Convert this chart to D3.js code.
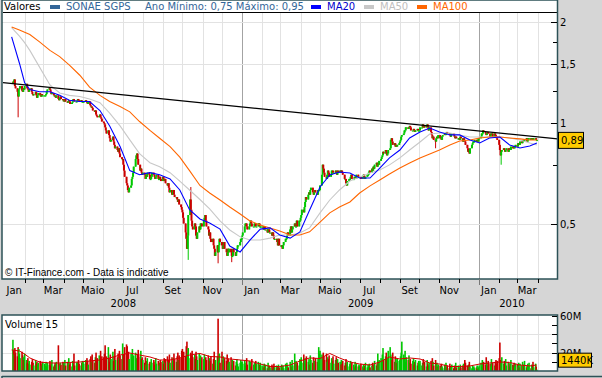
<!DOCTYPE html>
<html>
<head>
<meta charset="utf-8">
<script src="https://cdn.jsdelivr.net/npm/d3@7"></script>
<style>
  body { margin: 0; background: #d6d6d6; }
  svg { display: block; font-family: "DejaVu Sans", Verdana, sans-serif; font-size: 10px; }
</style>
</head>
<body>
<div id="wide"></div>
<script>
// ---- data ----
const firstDay = "2008-01-14";
const months = ["2008-01","2008-02","2008-03","2008-04","2008-05","2008-06","2008-07","2008-08","2008-09","2008-10","2008-11","2008-12",
  "2009-01","2009-02","2009-03","2009-04","2009-05","2009-06","2009-07","2009-08","2009-09","2009-10","2009-11","2009-12",
  "2010-01","2010-02","2010-03"];

// daily closes, one list per month (euro)
const closes = [
  [1.33,1.31,1.35,1.29,1.27,1.24,1.20,1.26,1.27,1.29,1.25,1.24,1.27,1.26],
  [1.29,1.31,1.27,1.26,1.24,1.26,1.27,1.24,1.22,1.21,1.22,1.24,1.21,1.19,1.21,1.23,1.21,1.20,1.22,1.21,1.21],
  [1.21,1.21,1.22,1.24,1.26,1.27,1.26,1.24,1.22,1.23,1.21,1.21,1.20,1.19,1.21,1.18,1.17,1.19,1.20,1.18,1.17],
  [1.17,1.16,1.18,1.16,1.15,1.16,1.17,1.16,1.14,1.15,1.16,1.18,1.17,1.16,1.16,1.17,1.18,1.17,1.16,1.17,1.16,1.16],
  [1.16,1.16,1.17,1.16,1.15,1.14,1.16,1.13,1.12,1.12,1.11,1.09,1.08,1.09,1.06,1.05,1.04,1.05,1.06,1.04,1.03,1.01],
  [1.00,0.99,0.97,0.95,0.93,0.95,0.92,0.90,0.88,0.89,0.91,0.88,0.86,0.84,0.85,0.83,0.82,0.84,0.81,0.79,0.78],
  [0.78,0.75,0.72,0.69,0.66,0.65,0.63,0.62,0.64,0.65,0.68,0.69,0.71,0.74,0.78,0.80,0.81,0.78,0.75,0.72,0.73,0.71,0.70],
  [0.71,0.70,0.68,0.70,0.69,0.71,0.70,0.68,0.68,0.69,0.71,0.70,0.69,0.68,0.69,0.70,0.68,0.68,0.69,0.68,0.67],
  [0.69,0.68,0.67,0.68,0.66,0.65,0.66,0.64,0.62,0.63,0.61,0.62,0.63,0.61,0.60,0.60,0.59,0.58,0.59,0.57,0.56,0.55],
  [0.54,0.52,0.50,0.47,0.45,0.42,0.46,0.53,0.59,0.55,0.51,0.49,0.48,0.50,0.49,0.46,0.45,0.47,0.49,0.48,0.50,0.50,0.49],
  [0.51,0.52,0.53,0.51,0.49,0.48,0.46,0.47,0.45,0.44,0.45,0.43,0.42,0.40,0.41,0.43,0.41,0.43,0.45,0.44],
  [0.43,0.42,0.43,0.44,0.42,0.41,0.40,0.42,0.41,0.42,0.41,0.40,0.40,0.42,0.41,0.40,0.41,0.42,0.43,0.43,0.44,0.45,0.45],
  [0.46,0.47,0.49,0.50,0.50,0.49,0.48,0.49,0.50,0.51,0.50,0.49,0.49,0.50,0.50,0.49,0.49,0.50,0.50,0.49,0.49,0.49],
  [0.49,0.48,0.49,0.48,0.48,0.47,0.48,0.48,0.47,0.47,0.46,0.47,0.46,0.45,0.45,0.45,0.44,0.43,0.45,0.43],
  [0.43,0.43,0.42,0.43,0.44,0.45,0.45,0.46,0.47,0.46,0.48,0.49,0.47,0.48,0.49,0.50,0.49,0.49,0.51,0.49,0.51,0.51],
  [0.52,0.53,0.55,0.54,0.56,0.58,0.60,0.59,0.61,0.62,0.61,0.63,0.64,0.62,0.61,0.62,0.63,0.62,0.61,0.63,0.63,0.63],
  [0.65,0.70,0.75,0.73,0.71,0.69,0.68,0.70,0.72,0.71,0.69,0.70,0.72,0.72,0.71,0.71,0.72,0.71,0.70,0.72,0.71],
  [0.72,0.71,0.72,0.71,0.70,0.68,0.68,0.66,0.65,0.67,0.68,0.68,0.69,0.70,0.68,0.68,0.69,0.69,0.68,0.70,0.69,0.69],
  [0.69,0.69,0.68,0.69,0.70,0.69,0.68,0.69,0.70,0.70,0.71,0.72,0.71,0.73,0.72,0.74,0.73,0.75,0.76,0.74,0.76,0.75,0.77],
  [0.78,0.79,0.80,0.82,0.81,0.83,0.82,0.80,0.81,0.83,0.84,0.89,0.90,0.88,0.86,0.87,0.85,0.86,0.85,0.86,0.87],
  [0.88,0.89,0.91,0.92,0.93,0.95,0.95,0.97,0.97,0.96,0.97,0.98,0.97,0.95,0.95,0.96,0.95,0.94,0.95,0.96,0.95,0.95],
  [0.95,0.97,0.97,0.99,0.97,0.98,0.97,0.98,0.99,0.97,0.95,0.97,0.94,0.92,0.90,0.91,0.89,0.88,0.90,0.91,0.90,0.92],
  [0.90,0.91,0.89,0.91,0.92,0.93,0.92,0.93,0.94,0.93,0.93,0.92,0.91,0.93,0.93,0.92,0.91,0.90,0.91,0.90,0.90],
  [0.90,0.89,0.91,0.90,0.88,0.90,0.89,0.88,0.86,0.84,0.82,0.83,0.81,0.84,0.86,0.87,0.88,0.88,0.89,0.88,0.89,0.88,0.90],
  [0.90,0.91,0.93,0.93,0.95,0.94,0.93,0.92,0.93,0.94,0.93,0.91,0.92,0.93,0.93,0.91,0.93,0.92,0.91,0.90,0.89],
  [0.86,0.83,0.80,0.82,0.83,0.84,0.83,0.82,0.83,0.84,0.82,0.83,0.84,0.83,0.85,0.84,0.85,0.84,0.85,0.86],
  [0.85,0.87,0.87,0.86,0.88,0.87,0.88,0.89,0.88,0.89,0.90,0.88,0.89,0.90,0.90,0.89,0.90,0.90,0.89,0.90,0.90,0.89,0.89]
];

// daily volume, millions of shares, same layout as closes
const volumes = [
  [34,22,18,25,20,16,26,24,19,14,21,17,15,12],
  [19,12,9,14,8,11,7,10,13,9,6,12,8,10,7,9,11,8,6,10,9],
  [8,6,10,5,9,7,11,6,8,12,5,7,9,6,10,28,8,6,9,7,10],
  [9,7,12,6,10,8,14,7,9,5,11,8,19,6,9,10,7,12,8,6,9,11],
  [10,8,12,9,14,11,7,13,16,10,18,12,9,15,20,11,14,17,12,22,13,16],
  [15,19,28,12,16,26,14,10,18,13,21,11,16,24,12,15,19,14,22,17,13],
  [30,18,14,26,29,27,16,21,13,19,15,24,12,17,20,14,11,18,23,16,22,13,15],
  [12,9,15,7,11,14,8,10,6,13,9,12,7,10,14,8,11,6,9,12,10],
  [11,8,14,9,13,16,10,12,18,9,15,11,14,19,13,10,16,20,12,17,14,22],
  [24,18,21,16,27,32,19,25,14,20,17,22,15,18,13,21,16,12,19,14,17,11,15],
  [13,18,10,15,12,17,9,14,11,16,8,13,21,10,12,16,57,11,19,9],
  [21,12,16,9,14,11,18,8,13,10,15,7,12,9,11,6,10,13,8,5,9,12,10],
  [10,8,12,6,9,14,7,11,8,10,5,13,7,9,6,11,8,10,5,7,9,6],
  [6,4,8,5,7,3,9,5,6,4,7,3,5,8,4,6,3,5,7,4],
  [5,7,4,6,3,8,5,9,6,4,10,7,5,12,6,19,8,11,7,9,6,13],
  [12,15,9,18,11,14,8,16,10,13,7,17,12,9,15,11,8,14,10,13,26,19],
  [22,18,14,20,16,12,19,10,15,13,17,9,14,11,16,8,12,15,10,13,9],
  [10,7,12,8,11,6,9,13,7,10,5,8,11,6,9,7,4,10,6,8,5,7],
  [6,4,8,5,7,3,6,9,4,7,5,8,4,6,9,5,7,11,6,8,19,10,12],
  [14,10,18,25,12,16,20,9,14,22,26,18,15,12,20,10,16,13,9,14,11],
  [12,16,20,32,18,14,22,10,15,12,17,9,13,8,11,14,7,10,12,6,9,11],
  [8,11,6,9,13,7,10,5,12,8,6,9,11,7,14,10,6,12,8,9,5,7],
  [6,4,8,5,3,7,5,9,4,6,3,8,5,4,7,3,6,5,9,4,6],
  [5,3,7,4,6,8,5,12,9,6,4,7,10,5,3,6,4,5,3,4,6,2,4],
  [6,9,5,12,8,10,7,15,9,6,11,8,5,13,7,9,6,10,12,8,11],
  [14,31,12,9,15,8,11,7,13,6,10,9,5,8,12,7,6,9,5,8],
  [7,5,9,4,8,6,10,5,7,11,4,6,8,5,9,3,7,6,10,4,8,5,1.44]
];

// intraday extremes that stick out of the bodies
const wickDates  = ["2008-01-22","2008-10-10","2008-10-14","2008-11-25","2008-12-16","2009-10-26","2010-02-04"];
const wickValues = [1.04, 0.389, 0.643, 0.38, 0.383, 0.84, 0.75];

// moving averages, sampled along the curves
const maDates = ["2008-01-12","2008-01-24","2008-02-01","2008-02-09","2008-02-24","2008-03-11","2008-03-26","2008-04-10","2008-04-26","2008-05-11",
  "2008-05-27","2008-06-11","2008-06-27","2008-07-12","2008-07-27","2008-08-12","2008-08-27","2008-09-12","2008-09-27","2008-10-12",
  "2008-10-28","2008-11-12","2008-11-28","2008-12-13","2008-12-29","2009-01-13","2009-01-29","2009-02-13","2009-02-28","2009-03-16",
  "2009-03-31","2009-04-15","2009-05-01","2009-05-16","2009-05-31","2009-06-16","2009-07-01","2009-07-17","2009-08-01","2009-08-16",
  "2009-09-01","2009-09-16","2009-10-02","2009-10-17","2009-11-01","2009-11-17","2009-12-02","2009-12-18","2010-01-02","2010-01-17",
  "2010-02-02","2010-02-17","2010-03-05","2010-03-20","2010-03-31"];
const ma20 = [1.81,1.51,1.32,1.26,1.24,1.24,1.21,1.17,1.16,1.16,1.09,0.98,0.85,0.72,0.70,0.71,0.70,0.68,0.63,0.55,
  0.516,0.502,0.481,0.428,0.411,0.446,0.481,0.485,0.462,0.452,0.472,0.549,0.643,0.699,0.713,0.708,0.684,0.684,0.733,0.786,
  0.830,0.902,0.940,0.966,0.940,0.921,0.921,0.889,0.871,0.902,0.908,0.859,0.842,0.853,0.871];
const ma50 = [1.93,1.82,1.74,1.65,1.47,1.30,1.23,1.21,1.20,1.18,1.15,1.07,0.98,0.89,0.81,0.76,0.74,0.71,0.67,0.63,
  0.59,0.553,0.509,0.478,0.456,0.446,0.446,0.452,0.462,0.462,0.468,0.485,0.538,0.588,0.630,0.670,0.689,0.708,0.723,0.749,
  0.786,0.830,0.877,0.927,0.933,0.933,0.921,0.908,0.908,0.908,0.908,0.902,0.889,0.871,0.859];
const ma100 = [1.94,1.90,1.87,1.84,1.75,1.65,1.58,1.49,1.39,1.28,1.21,1.16,1.12,1.08,1.01,0.95,0.90,0.85,0.79,0.72,
  0.65,0.617,0.588,0.560,0.534,0.509,0.495,0.485,0.475,0.462,0.462,0.472,0.505,0.538,0.560,0.580,0.617,0.648,0.675,0.703,
  0.733,0.759,0.786,0.808,0.830,0.859,0.883,0.889,0.902,0.908,0.908,0.902,0.896,0.889,0.889];
const volMa15 = [22.9,21.8,18.5,14.2,9.8,8.7,8.7,9.3,9.8,10.9,12.0,14.2,17.4,19.6,17.4,15.3,12.0,12.0,14.2,17.4,
  19.1,15.8,15.3,13.1,12.0,10.9,7.6,4.9,4.9,6.5,10.9,14.2,13.6,19.1,14.2,9.8,7.6,6.5,9.8,15.3,
  13.1,14.2,13.1,8.7,7.6,4.9,4.9,5.5,7.6,8.7,9.8,9.3,6.5,5.5,6.5];

// resistance line
const trendDates = ["2008-01-01","2010-05-01"];
const trendValues = [1.32, 0.896];

const priceTicks = [0.5, 1, 1.5, 2];
const priceMinorTicks = [0.75, 1.25, 1.75];
const volTicks = [10, 20, 30, 40, 50, 60];
const volLabels = [20, 60];
const volGrid = [20, 40];
const monthNames = ["Jan","Fev","Mar","Abr","Maio","Jun","Jul","Ago","Set","Out","Nov","Dez"];

// ---- layout ----
const params = {
  width: 602, height: 378,
  left: 2, right: 557.5,
  main: { top: 13, bottom: 279 },
  vol: { top: 315, bottom: 371 }
};
const BORDER = "#2d5257", GRID = "#e2e2e2", YEARGRID = "#a3a3a3";
const UP = "#00c800", DOWN = "#cc0000";

const parseDay = d3.timeParse("%Y-%m-%d");
const pt = d3.formatLocale({ decimal: ",", thousands: ".", grouping: [3], currency: ["", "€"] });
const fmt = pt.format("~g");

// build candles from the monthly lists (open = previous close)
const candles = [];
let prev = null;
months.forEach((m, mi) => {
  const mStart = parseDay(m + "-01");
  const start = mi === 0 ? parseDay(firstDay) : mStart;
  const days = d3.timeDays(start, d3.timeMonth.offset(mStart, 1)).filter(d => d.getDay() % 6 !== 0);
  const n = closes[mi].length;
  closes[mi].forEach((c, i) => {
    const date = days[Math.round(i * (days.length - 1) / Math.max(1, n - 1))];
    const open = prev == null ? c : prev;
    candles.push({ date, open, close: c, high: Math.max(open, c), low: Math.min(open, c), volume: volumes[mi][i] });
    prev = c;
  });
});
const bis = d3.bisector(d => d.date).center;
wickDates.forEach((ds, i) => {
  const c = candles[bis(candles, parseDay(ds))];
  c.high = Math.max(c.high, wickValues[i]);
  c.low = Math.min(c.low, wickValues[i]);
});

const x = d3.scaleTime()
  .domain([parseDay("2008-01-01"), parseDay("2010-05-01")])
  .range([4.5, 557]);
const y = d3.scaleLog().domain([0.341, 2.135]).range([params.main.bottom, params.main.top]);
const vy = d3.scaleLinear().domain([0, 61]).range([params.vol.bottom, params.vol.top]);

const svg = d3.select("#wide").append("svg")
  .attr("width", params.width).attr("height", params.height);

// panels
svg.append("rect").attr("x", params.left).attr("y", 0)
  .attr("width", params.right - params.left).attr("height", params.main.bottom)
  .attr("fill", "#fff");
svg.append("rect").attr("x", params.left).attr("y", params.vol.top)
  .attr("width", params.right - params.left).attr("height", params.vol.bottom - params.vol.top)
  .attr("fill", "#fff");

const monthsAll = d3.timeMonths(x.domain()[0], x.domain()[1]).slice(1);

// gridlines
function vGrid(top, bottom) {
  svg.append("g").selectAll("line").data(monthsAll).join("line")
    .attr("x1", d => Math.round(x(d)) + 0.5).attr("x2", d => Math.round(x(d)) + 0.5)
    .attr("y1", top).attr("y2", bottom)
    .attr("stroke", d => d.getMonth() === 0 ? YEARGRID : GRID)
    .attr("stroke-width", 1);
}
vGrid(params.main.top, params.main.bottom);
vGrid(params.vol.top, params.vol.bottom);

svg.append("g").selectAll("line").data(priceTicks).join("line")
  .attr("x1", params.left).attr("x2", params.right)
  .attr("y1", d => Math.round(y(d)) + 0.5).attr("y2", d => Math.round(y(d)) + 0.5)
  .attr("stroke", GRID);
svg.append("g").selectAll("line").data(volGrid).join("line")
  .attr("x1", params.left).attr("x2", params.right)
  .attr("y1", d => Math.round(vy(d)) + 0.5).attr("y2", d => Math.round(vy(d)) + 0.5)
  .attr("stroke", GRID);

// candles
const cg = svg.append("g");
cg.selectAll("line").data(candles).join("line")
  .attr("x1", d => x(d.date)).attr("x2", d => x(d.date))
  .attr("y1", d => y(d.high)).attr("y2", d => y(d.low))
  .attr("stroke", d => d.close >= d.open ? UP : DOWN)
  .attr("stroke-width", 1);
cg.selectAll("rect").data(candles).join("rect")
  .attr("x", d => x(d.date) - 1).attr("width", 2)
  .attr("y", d => y(Math.max(d.open, d.close)))
  .attr("height", d => Math.max(1.2, y(Math.min(d.open, d.close)) - y(Math.max(d.open, d.close))))
  .attr("fill", d => d.close >= d.open ? UP : DOWN);

// moving averages
const maData = (vals) => maDates.map((ds, i) => ({ date: parseDay(ds), v: vals[i] }));
const line = d3.line().x(d => x(d.date)).y(d => y(d.v));
[[ma50, "#c8c8c8"], [ma100, "#ff6600"], [ma20, "#0000ff"]].forEach(([vals, col]) => {
  svg.append("path").datum(maData(vals)).attr("d", line)
    .attr("fill", "none").attr("stroke", col).attr("stroke-width", 1.1);
});

// trend line
const tx0 = x(parseDay(trendDates[0])), tx1 = x(parseDay(trendDates[1]));
const ty0 = y(trendValues[0]), ty1 = y(trendValues[1]);
svg.append("line")
  .attr("x1", 3).attr("x2", params.right)
  .attr("y1", ty0 + (3 - tx0) * (ty1 - ty0) / (tx1 - tx0))
  .attr("y2", ty1)
  .attr("stroke", "#000").attr("stroke-width", 1.3);

// volume bars
svg.append("g").selectAll("rect").data(candles).join("rect")
  .attr("x", d => x(d.date) - 0.8).attr("width", 1.6)
  .attr("y", d => vy(d.volume)).attr("height", d => vy(0) - vy(d.volume))
  .attr("fill", d => d.close >= d.open ? UP : DOWN);
svg.append("path")
  .datum(maDates.map((ds, i) => ({ date: parseDay(ds), v: volMa15[i] })))
  .attr("d", d3.line().x(d => x(d.date)).y(d => vy(d.v)))
  .attr("fill", "none").attr("stroke", "#d40000").attr("stroke-width", 1);

// legend
svg.append("text").attr("x", 4).attr("y", 10).text("Valores");
const lastYear = candles.filter(d => d.date.getFullYear() === 2010);
const legend = [
  { x: 50, col: "#336699", tcol: "#336699", label: "SONAE SGPS" },
  { x: 311, col: "#0000ff", tcol: "#0000cc", label: "MA20" },
  { x: 364, col: "#c8c8c8", tcol: "#c0c0c0", label: "MA50" },
  { x: 417, col: "#ff6600", tcol: "#ff6600", label: "MA100" }
];
legend.forEach(l => {
  svg.append("rect").attr("x", l.x).attr("y", 5).attr("width", 10).attr("height", 4).attr("fill", l.col);
  svg.append("text").attr("x", l.x + 16).attr("y", 10).attr("fill", l.tcol).text(l.label);
});
svg.append("text").attr("x", 145).attr("y", 10).attr("fill", "#336699")
  .text("Ano Mínimo: " + pt.format(".2f")(d3.min(lastYear, d => d.low)) + " Máximo: " + pt.format(".2f")(d3.max(lastYear, d => d.high)));
svg.append("line").attr("x1", 3).attr("x2", params.right).attr("y1", 12.5).attr("y2", 12.5)
  .attr("stroke", "#000");

svg.append("text").attr("x", 5).attr("y", 276)
  .style("font-family", "'Liberation Sans', Arial, sans-serif")
  .text("© IT-Finance.com - Data is indicative");
svg.append("text").attr("x", 5).attr("y", 328).text("Volume 15");

// panel borders
[[0, params.main.bottom], [params.vol.top, params.vol.bottom]].forEach(([t, b]) => {
  svg.append("rect").attr("x", params.left).attr("y", t)
    .attr("width", params.right - params.left).attr("height", b - t)
    .attr("fill", "none").attr("stroke", BORDER).attr("stroke-width", 1.5);
});
svg.append("line").attr("x1", params.left).attr("x2", params.width).attr("y1", 376.5).attr("y2", 376.5)
  .attr("stroke", BORDER).attr("stroke-width", 1.5);
svg.append("line").attr("x1", params.left).attr("x2", params.left).attr("y1", 376).attr("y2", 378)
  .attr("stroke", BORDER).attr("stroke-width", 1.5);

// right price axis
svg.append("g").selectAll("line").data(priceTicks.concat(priceMinorTicks)).join("line")
  .attr("x1", d => priceTicks.includes(d) ? 551 : 553).attr("x2", 557)
  .attr("y1", d => Math.round(y(d)) + 0.5).attr("y2", d => Math.round(y(d)) + 0.5)
  .attr("stroke", "#000");
svg.append("g").selectAll("text").data(priceTicks).join("text")
  .attr("x", 560).attr("y", d => y(d) + 4).text(d => fmt(d));

// right volume axis
svg.append("g").selectAll("line").data(volTicks).join("line")
  .attr("x1", 552).attr("x2", 557)
  .attr("y1", d => Math.round(vy(d)) + 0.5).attr("y2", d => Math.round(vy(d)) + 0.5)
  .attr("stroke", "#000");
svg.append("g").selectAll("text").data(volLabels).join("text")
  .attr("x", 560).attr("y", d => vy(d) + 4).text(d => d + "M");

// last value flags
const last = candles[candles.length - 1];
const ly = y(last.close);
svg.append("rect").attr("x", 558.5).attr("y", ly - 7.5).attr("width", 25).attr("height", 16)
  .attr("fill", "#ffcc00").attr("stroke", "#000");
svg.append("text").attr("x", 561).attr("y", ly + 4.5).text(pt.format(".2f")(last.close));
const lvy = Math.min(vy(last.volume), params.vol.bottom - 1) - 9.5;
svg.append("rect").attr("x", 558.5).attr("y", lvy - 7).attr("width", 33).attr("height", 14)
  .attr("fill", "#ffcc00").attr("stroke", "#000");
svg.append("text").attr("x", 561).attr("y", lvy + 4).text(Math.round(last.volume * 1000) + "K");

// time axis
svg.append("g").selectAll("line").data(monthsAll).join("line")
  .attr("x1", d => Math.round(x(d)) + 0.5).attr("x2", d => Math.round(x(d)) + 0.5)
  .attr("y1", params.main.bottom).attr("y2", d => d.getMonth() === 0 ? 285 : 283)
  .attr("stroke", d => d.getMonth() === 0 ? "#777" : "#000");
const labelMonths = d3.timeMonths(x.domain()[0], x.domain()[1])
  .filter(d => d.getMonth() % 2 === 0 && x(d3.timeDay.offset(d, 15)) < params.right - 10);
svg.append("g").selectAll("text").data(labelMonths).join("text")
  .attr("x", d => x(d3.timeDay.offset(d, 15))).attr("y", 294)
  .attr("text-anchor", "middle").text(d => monthNames[d.getMonth()]);
const years = d3.timeYears(x.domain()[0], x.domain()[1]);
svg.append("g").selectAll("text").data(years).join("text")
  .attr("x", d => (x(d) + Math.min(x(d3.timeYear.offset(d, 1)), x(last.date) + 8)) / 2)
  .attr("y", 307).attr("text-anchor", "middle").text(d => d.getFullYear());
</script>
</body>
</html>
